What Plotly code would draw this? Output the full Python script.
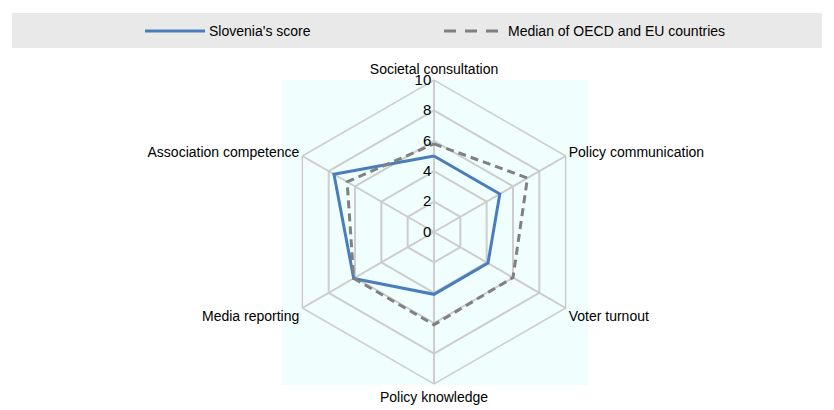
import plotly.graph_objects as go

categories = ["Societal consultation", "Policy communication", "Voter turnout",
              "Policy knowledge", "Media reporting", "Association competence"]
slovenia = [5.0, 5.0, 4.1, 4.1, 6.1, 7.6]
median = [5.8, 7.1, 6.0, 6.1, 6.1, 6.6]
series_names = ["Slovenia's score", "Median of OECD and EU countries"]
radial_ticks = [0, 2, 4, 6, 8, 10]

W, H = 834, 410
FONT = "Liberation Sans, Arial, sans-serif"
BLUE = "#4A7EBB"
GREY = "#808080"
OFF = 8  # page body margin


def px_x(v):
    return (v - OFF) / W


def px_y(v):
    return 1 - (v - OFF) / H


fig = go.Figure()

# close the polygons
fig.add_trace(go.Scatterpolar(
    r=slovenia + slovenia[:1], theta=categories + categories[:1],
    mode="lines", name=series_names[0],
    line=dict(color=BLUE, width=3), showlegend=False
))
fig.add_trace(go.Scatterpolar(
    r=median + median[:1], theta=categories + categories[:1],
    mode="lines", name=series_names[1],
    line=dict(color=GREY, width=3, dash="8px,5px"), showlegend=False
))

cx, cy, rad = 434, 232, 152

fig.update_layout(
    width=W, height=H,
    margin=dict(l=0, r=0, t=0, b=0),
    paper_bgcolor="white",
    font=dict(family=FONT, size=14, color="#000000"),
    polar=dict(
        domain=dict(x=[px_x(cx - rad), px_x(cx + rad)],
                    y=[px_y(cy + rad), px_y(cy - rad)]),
        gridshape="linear",
        bgcolor="#F0FEFE",
        radialaxis=dict(
            range=[0, 10], tickvals=radial_ticks, angle=90, tickangle=90,
            showline=False, ticks="", gridcolor="#CDCDCD", gridwidth=1.5,
            tickfont=dict(size=15), side="counterclockwise",
            ticksuffix="\u00a0\u00a0\u00a0"
        ),
        angularaxis=dict(
            direction="clockwise", rotation=90,
            showline=True, linecolor="#CDCDCD", linewidth=1.5,
            gridcolor="#CDCDCD", gridwidth=1.5, ticks="",
            tickfont=dict(size=14)
        ),
    ),
    shapes=[
        # light backdrop behind the radar
        dict(type="rect", xref="paper", yref="paper", layer="below",
             x0=px_x(282), x1=px_x(588), y0=px_y(385), y1=px_y(80),
             fillcolor="#F0FEFE", line=dict(width=0)),
        # legend band
        dict(type="rect", xref="paper", yref="paper", layer="below",
             x0=px_x(12), x1=px_x(822), y0=px_y(48), y1=px_y(13),
             fillcolor="#E9E9E9", line=dict(width=0)),
        dict(type="line", xref="paper", yref="paper",
             x0=px_x(145), x1=px_x(205), y0=px_y(31), y1=px_y(31),
             line=dict(color=BLUE, width=3)),
        dict(type="line", xref="paper", yref="paper",
             x0=px_x(444), x1=px_x(505), y0=px_y(31), y1=px_y(31),
             line=dict(color=GREY, width=3, dash="12px,9px")),
    ],
    annotations=[
        dict(text=series_names[0], xref="paper", yref="paper",
             x=px_x(207), y=px_y(31), xanchor="left", yanchor="middle",
             showarrow=False, font=dict(size=14)),
        dict(text=series_names[1], xref="paper", yref="paper",
             x=px_x(506), y=px_y(31), xanchor="left", yanchor="middle",
             showarrow=False, font=dict(size=14)),
    ],
)

fig.write_html("out.html")
